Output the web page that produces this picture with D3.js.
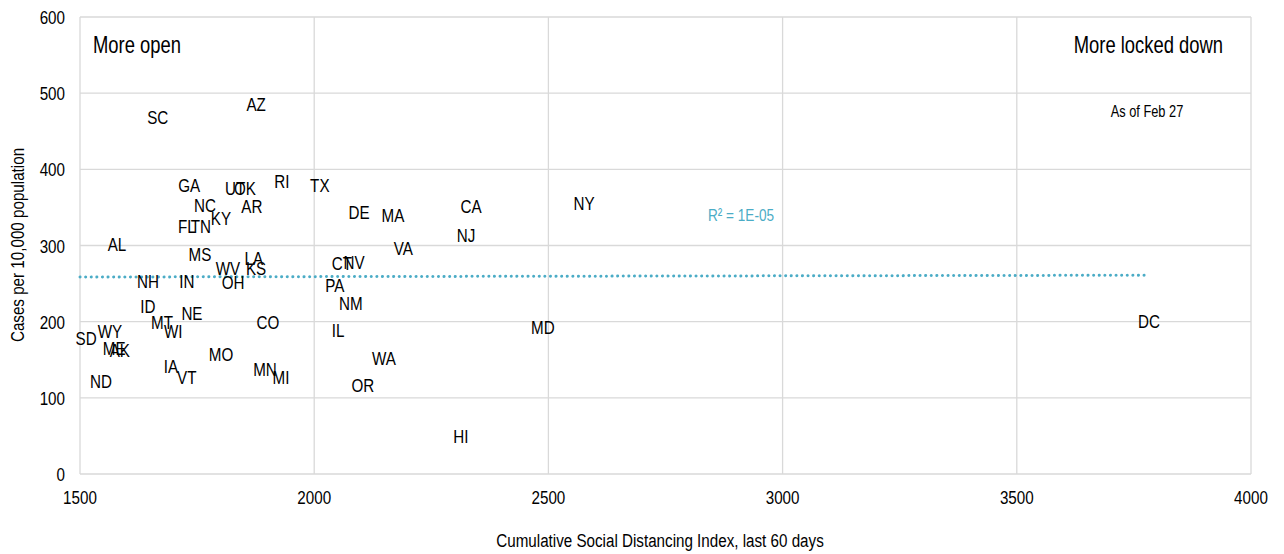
<!DOCTYPE html><html><head><meta charset="utf-8">
<script src="https://cdn.jsdelivr.net/npm/d3@7"></script>
<style>body{margin:0;background:#fff}text{font-family:"Liberation Sans","DejaVu Sans";fill:#000}</style></head><body>
<svg id="c" width="1284" height="554"></svg>
<script>
const states=["SC","AZ","GA","UT","OK","RI","TX","NC","KY","AR","FL","TN","AL","MS","LA","KS","WV","CT","NV","NH","IN","OH","PA","NM","ID","MT","NE","WI","CO","IL","WY","SD","ME","AK","MO","IA","VT","MN","MI","ND","WA","OR","HI","DE","MA","VA","CA","NJ","NY","MD","DC"];
const sdi=[1666,1876,1733,1831,1852,1931,2012,1767,1801,1867,1728,1758,1579,1756,1871,1876,1816,2059,2085,1645,1728,1827,2044,2078,1645,1675,1739,1699,1901,2051,1564,1513,1573,1585,1801,1694,1728,1895,1929,1545,2149,2104,2313,2096,2168,2190,2335,2324,2576,2488,3782];
const cases=[469,486,379,375,375,385,379,353,336,352,326,326,302,289,284,270,270,277,278,253,253,252,248,224,221,200,211,188,200,189,188,179,165,163,158,142,127,138,127,122,152,117,50,344,340,297,352,314,356,193,201];
const xTicks=[1500,2000,2500,3000,3500,4000], yTicks=[0,100,200,300,400,500,600];
const trend=[[1500,258.6],[3782,261]];
const svg=d3.select("#c");
const x=d3.scaleLinear().domain([1500,4000]).range([80,1251]);
const y=d3.scaleLinear().domain([0,600]).range([474,17]);
const SX=0.8;
function T(g,px,py,txt,size,anchor){return g.append("text").attr("transform",`translate(${px},${py}) scale(${SX},1)`).attr("text-anchor",anchor||"middle").attr("font-size",size).text(txt);}
svg.append("g").selectAll("line").data(xTicks).join("line").attr("x1",d=>x(d)).attr("x2",d=>x(d)).attr("y1",17).attr("y2",474).attr("stroke","#d9d9d9").attr("stroke-width",1.3);
svg.append("g").selectAll("line").data(yTicks).join("line").attr("y1",d=>y(d)).attr("y2",d=>y(d)).attr("x1",80).attr("x2",1251).attr("stroke","#d9d9d9").attr("stroke-width",1.3);
svg.append("g").selectAll("text").data(xTicks).join("text").attr("transform",d=>`translate(${x(d)},504) scale(${SX},1)`).attr("text-anchor","middle").attr("font-size",19).text(d=>d);
svg.append("g").selectAll("text").data(yTicks).join("text").attr("transform",d=>`translate(65,${y(d)+7}) scale(${SX},1)`).attr("text-anchor","end").attr("font-size",19).text(d=>d);
svg.append("path").attr("d",d3.line().x(d=>x(d[0])).y(d=>y(d[1]))(trend)).attr("stroke","#4bacc6").attr("stroke-width",3).attr("stroke-dasharray","0.1 5.5").attr("stroke-linecap","round").attr("fill","none");
svg.append("g").selectAll("text").data(states).join("text").attr("transform",(d,i)=>`translate(${x(sdi[i])},${y(cases[i])+7}) scale(${SX},1)`).attr("text-anchor","middle").attr("font-size",19).text(d=>d);
T(svg,93,53,"More open",23,"start");
T(svg,1223,53,"More locked down",23,"end");
T(svg,1147,117,"As of Feb 27",16);
T(svg,741,221,"R² = 1E-05",17).style("fill","#4bacc6");
T(svg,660,547,"Cumulative Social Distancing Index, last 60 days",19);
svg.append("text").attr("transform","translate(24,245) rotate(-90) scale(0.8,1)").attr("text-anchor","middle").attr("font-size",19).text("Cases per 10,000 population");
</script></body></html>
